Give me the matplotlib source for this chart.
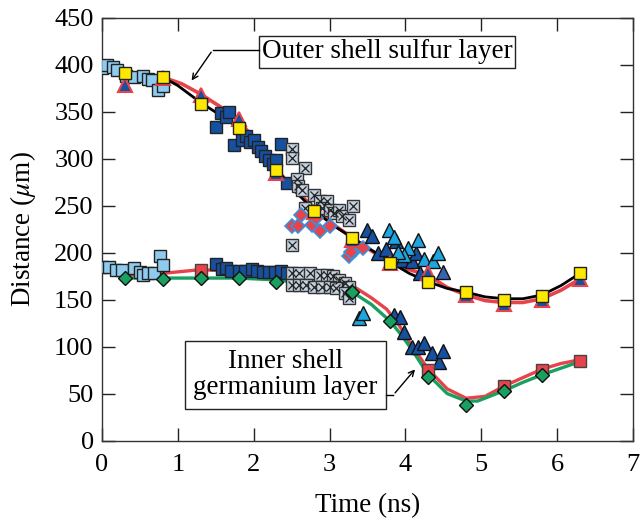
import matplotlib.pyplot as plt
from matplotlib.patches import Rectangle

plt.rcParams['font.family'] = ['Liberation Serif', 'DejaVu Serif']
plt.rcParams['mathtext.fontset'] = 'stix'

# simulation times (ns)
t_sim = [0.3, 0.8, 1.3, 1.8, 2.3, 2.8, 3.3, 3.8, 4.3, 4.8, 5.3, 5.8, 6.3]
outer_sq = [391, 387, 358, 333, 288, 244, 216, 189, 169, 158, 150, 154, 178]
outer_tri = [379, 386, 368, 342, 285, 243, 214, 189, 178, 155, 145, 150, 172]

# simulated curves, outer shell
t_outer_k = [0.3, 0.8, 1.0, 1.3, 1.55, 1.8, 2.05, 2.3, 2.55, 2.8, 3.05, 3.3, 3.55, 3.8,
             4.05, 4.3, 4.55, 4.8, 5.05, 5.3, 5.55, 5.8, 6.05, 6.3]
outer_k = [391, 387, 378, 360, 347, 333, 311, 289, 265, 245, 229, 216, 203, 190,
           178, 169, 162, 158, 153, 151, 151, 155, 165, 178]
t_outer_r = [0.3, 0.8, 1.05, 1.3, 1.55, 1.8, 2.05, 2.3, 2.55, 2.8, 3.05, 3.3, 3.55, 3.8,
             4.05, 4.3, 4.55, 4.8, 5.05, 5.3, 5.55, 5.8, 6.05, 6.3]
outer_r = [388, 387, 380, 369, 356, 342, 316, 289, 266, 248, 230, 216, 202, 190,
           182, 176, 163, 155, 149, 147, 147, 151, 160, 172]

# simulated curves, inner shell
t_inner_r = [0.3, 0.8, 1.3, 1.8, 2.3, 2.8, 3.05, 3.3, 3.55, 3.75, 3.9, 4.05, 4.3,
             4.55, 4.8, 5.05, 5.3, 5.55, 5.8, 6.05, 6.3]
inner_r = [176, 178, 182, 180, 177, 172, 170, 165, 152, 140, 125, 105, 76,
           55, 45, 47, 58, 67, 76, 82, 86]
t_inner_g = [0.3, 0.8, 1.3, 1.8, 2.3, 2.8, 3.05, 3.3, 3.55, 3.8, 3.95, 4.1, 4.3,
             4.55, 4.8, 4.95, 5.3, 5.55, 5.8, 6.05, 6.3]
inner_g = [173, 173, 173, 173, 171, 166, 163, 158, 145, 127, 112, 95, 70,
           50, 42, 42, 53, 62, 70, 77, 84]

t_red_sq = [1.3, 4.3, 5.3, 5.8, 6.3]
red_sq = [182, 75, 58, 75, 85]
t_diam = [0.3, 0.8, 1.3, 1.8, 2.3, 3.3, 3.8, 4.3, 4.8, 5.3, 5.8]
diam = [173, 172, 173, 173, 169, 158, 127, 68, 38, 53, 70]

# measurements, outer shell
t_o_lb = [0.0, 0.07, 0.15, 0.2, 0.31, 0.42, 0.54, 0.61, 0.66, 0.74, 0.8]
d_o_lb = [397, 400, 398, 395, 388, 387, 388, 385, 384, 373, 378]
t_o_db = [1.50, 1.57, 1.63, 1.68, 1.74, 1.85, 1.90, 1.95, 2.00, 2.05, 2.10, 2.15,
          2.20, 2.25, 2.30, 2.36, 2.44]
d_o_db = [334, 349, 345, 350, 315, 320, 324, 318, 320, 313, 308, 303,
          299, 295, 299, 316, 274]
t_o_x = [2.5, 2.5, 2.68, 2.57, 2.58, 2.63, 2.68, 2.79, 2.87, 2.96, 2.9, 3.01,
         3.06, 3.12, 3.17, 3.25, 3.31, 2.5]
d_o_x = [310, 301, 290, 279, 271, 267, 248, 262, 255, 255, 248, 246,
         242, 246, 239, 235, 250, 208]
t_o_dm = [2.5, 2.58, 2.62, 2.77, 2.88, 3.0, 2.82, 3.25, 3.33, 3.44, 3.28]
d_o_dm = [228, 228, 240, 230, 223, 228, 237, 196, 203, 205, 201]
t_o_tri = [3.5, 3.56, 3.64, 3.74, 3.87, 3.95, 4.09, 4.14, 4.19]
d_o_tri = [224, 218, 200, 204, 212, 192, 191, 200, 178]
t_o_cy = [3.79, 3.85, 4.03, 3.98, 4.17, 4.25, 4.36, 4.43, 3.9]
d_o_cy = [224, 217, 205, 198, 214, 193, 191, 200, 201]

# measurements, inner shell
t_i_lb = [0.0, 0.09, 0.18, 0.26, 0.42, 0.5, 0.54, 0.61, 0.68, 0.76, 0.8]
d_i_lb = [185, 185, 182, 182, 184, 179, 176, 178, 178, 197, 187]
t_i_db = [1.5, 1.58, 1.63, 1.7, 1.8, 1.88, 1.98, 2.04, 2.12, 2.2, 2.28, 2.36, 2.44]
d_i_db = [188, 183, 184, 181, 181, 181, 183, 181, 180, 180, 179, 181, 178]
t_i_x = [2.5, 2.6, 2.74, 2.87, 2.96, 3.04, 3.12, 3.2, 3.25,
         2.5, 2.6, 2.69, 2.79, 2.9, 3.0, 3.09, 3.2, 3.25]
d_i_x = [178, 178, 178, 176, 176, 175, 171, 168, 164,
         166, 166, 166, 164, 164, 164, 162, 157, 152]
t_i_cy = [3.39, 3.44]
d_i_cy = [130, 136]
t_i_tri = [3.85, 3.93, 3.98, 4.09, 4.17, 4.25, 4.35, 4.44, 4.49]
d_i_tri = [134, 132, 116, 100, 100, 104, 93, 84, 95]

light_blue = '#8ecbee'
dark_blue = '#1650a0'
cyan = '#1ea4de'
red = '#e8434a'
green = '#18a060'
yellow = '#ffe800'

fig = plt.figure(figsize=(6.41, 5.2), dpi=100)
ax = fig.add_axes([102 / 641, 1 - 440.5 / 520, 531 / 641, 422.5 / 520])

# model curves
ax.plot(t_outer_r, outer_r, color=red, lw=2.6, zorder=2)
ax.plot(t_outer_k, outer_k, color='black', lw=2.0, zorder=2)
ax.plot(t_inner_r, inner_r, color=red, lw=2.4, zorder=2)
ax.plot(t_inner_g, inner_g, color=green, lw=2.4, zorder=2)

# measured points
sq = dict(ls='none', marker='s', ms=8.5, mec='#222222', mew=1.0, zorder=3)
ax.plot(t_o_lb, d_o_lb, mfc=light_blue, **sq)
ax.plot(t_i_lb, d_i_lb, mfc=light_blue, **sq)
ax.plot(t_o_db, d_o_db, mfc=dark_blue, **sq)
ax.plot(t_i_db, d_i_db, mfc=dark_blue, **sq)
for tx, dx in [(t_o_x, d_o_x), (t_i_x, d_i_x)]:
    ax.plot(tx, dx, ls='none', marker='s', ms=8, mfc='#c4d2e0', mec='#333333', mew=1.0, zorder=3)
    ax.plot(tx, dx, ls='none', marker='x', ms=5.5, mec='#222222', mew=0.9, zorder=3)
ax.plot(t_o_dm, d_o_dm, ls='none', marker='D', ms=7, mfc=red, mec='#3a90dc', mew=1.2, zorder=3)
tri = dict(ls='none', marker='^', ms=10.5, mec='#111111', mew=1.0, zorder=3)
ax.plot(t_o_tri, d_o_tri, mfc=dark_blue, **tri)
ax.plot(t_o_cy, d_o_cy, mfc=cyan, **tri)
ax.plot([4.49], [180], mfc='#3a62b0', **tri)
ax.plot(t_i_tri, d_i_tri, mfc=dark_blue, **tri)
ax.plot(t_i_cy, d_i_cy, mfc=cyan, **tri)

# model markers
ax.plot(t_sim, outer_tri, ls='none', marker='^', ms=10.5, mfc=dark_blue, mec=red, mew=1.5, zorder=4)
ax.plot(t_sim, outer_sq, ls='none', marker='s', ms=8.5, mfc=yellow, mec='#222222', mew=1.0, zorder=5)
ax.plot(t_red_sq, red_sq, ls='none', marker='s', ms=8.5, mfc=red, mec='#444444', mew=1.0, zorder=4)
ax.plot(t_diam, diam, ls='none', marker='D', ms=7.5, mfc=green, mec='#111111', mew=1.0, zorder=5)

# labels with boxes and arrows
ax.add_patch(Rectangle((2.07, 397), 3.38, 34, fill=False, ec='#222222', lw=1.0, zorder=6))
ax.text(3.76, 414, 'Outer shell sulfur layer', ha='center', va='center', fontsize=19.5, zorder=6)
ax.plot([2.07, 1.46], [416, 416], color='black', lw=1.0, zorder=6)
ax.annotate('', xy=(1.16, 381), xytext=(1.46, 416),
            arrowprops=dict(arrowstyle='->', color='black', lw=1.0), zorder=6)

ax.add_patch(Rectangle((1.10, 34), 2.64, 72, fill=False, ec='#222222', lw=1.0, zorder=6))
ax.text(2.42, 70, 'Inner shell\ngermanium layer', ha='center', va='center',
        fontsize=19.5, linespacing=1.05, zorder=6)
ax.plot([3.74, 3.84], [48.5, 48.5], color='black', lw=1.0, zorder=6)
ax.annotate('', xy=(4.15, 78), xytext=(3.84, 48.5),
            arrowprops=dict(arrowstyle='->', color='black', lw=1.0), zorder=6)

ax.set_xlim(0, 7)
ax.set_ylim(0, 450)
ax.set_xticks(range(0, 8))
ax.set_yticks(range(0, 451, 50))
ax.tick_params(direction='in', length=9.5, width=1.0, color='#222222',
               top=True, right=True, labelsize=19)
ax.tick_params(axis='x', pad=10)
ax.tick_params(axis='y', pad=6)
for s in ax.spines.values():
    s.set_color('#333333')
    s.set_linewidth(1.0)

ax.set_xlabel('Time (ns)', fontsize=19.5, labelpad=12)
ax.set_ylabel(r'Distance ($\mu$m)', fontsize=19.5, labelpad=12)

plt.savefig('out.png', dpi=100)
